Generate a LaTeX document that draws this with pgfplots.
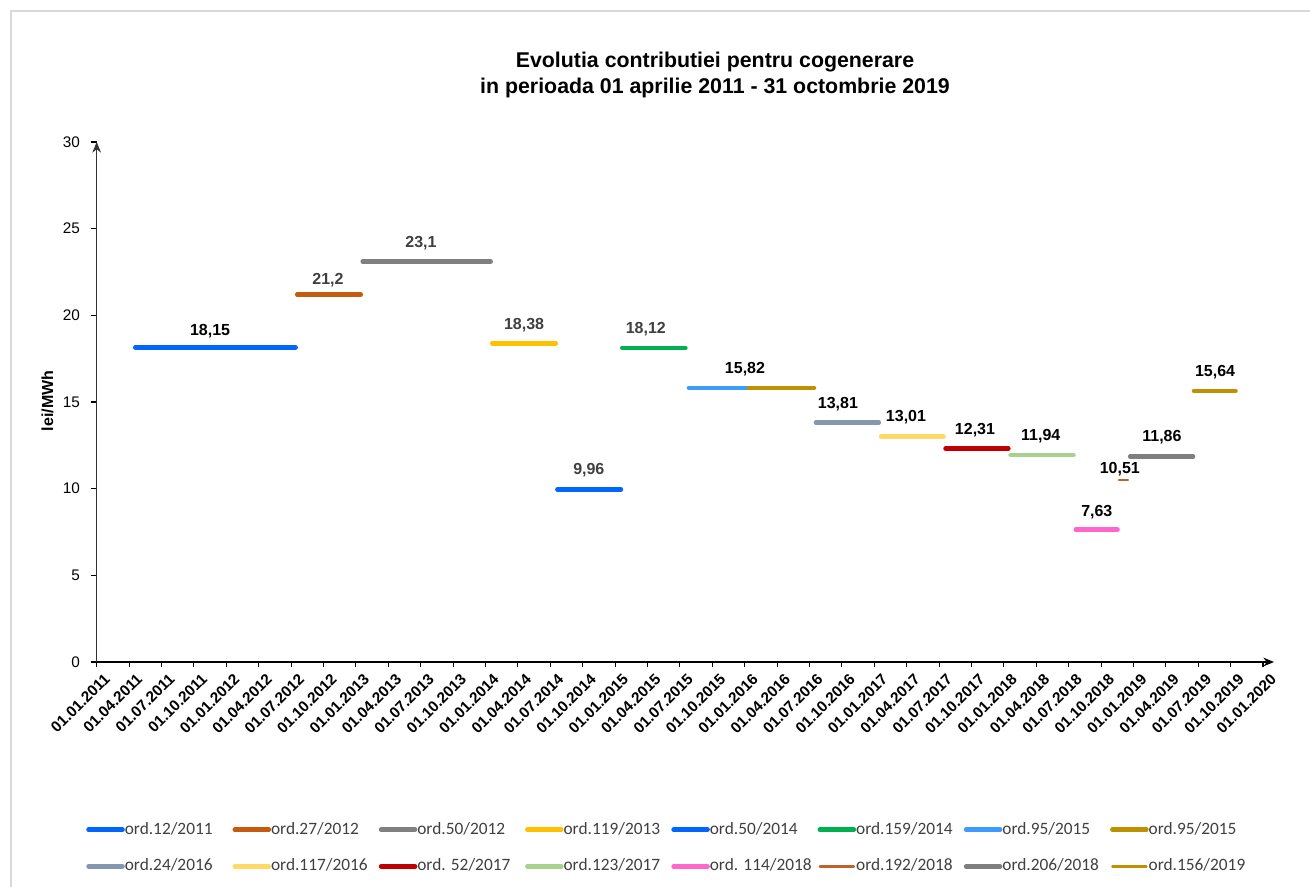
\documentclass[border=0pt]{standalone}
\usepackage{pgfplots}
\pgfplotsset{compat=1.18}
\usepackage{fontspec}
\setmainfont{Liberation Sans}
\newfontfamily\carlito{Carlito}
\usetikzlibrary{arrows.meta}

\definecolor{cBlue}{HTML}{0066FF}
\definecolor{cOrange}{HTML}{C55A11}
\definecolor{cGray}{HTML}{808080}
\definecolor{cGold}{HTML}{FFC000}
\definecolor{cGreen}{HTML}{00B050}
\definecolor{cLBlue}{HTML}{3D9BFF}
\definecolor{cOlive}{HTML}{BF9000}
\definecolor{cSlate}{HTML}{8497B0}
\definecolor{cLYellow}{HTML}{FFD966}
\definecolor{cRed}{HTML}{C00000}
\definecolor{cLGreen}{HTML}{A9D18E}
\definecolor{cPink}{HTML}{FF66CC}
\definecolor{cBrown}{HTML}{C0612B}
\definecolor{cDGray}{HTML}{7F7F7F}
\definecolor{cLab}{HTML}{404040}
\definecolor{cFrame}{HTML}{D9D9D9}

\pgfplotstableread{
x y lab
3.50 19.10 18,15
22.88 14.90 13,81
24.98 14.10 13,01
27.11 13.40 12,31
29.14 13.03 11,94
30.87 8.65 7,63
31.58 11.15 10,51
32.88 12.95 11,86
34.52 16.73 15,64
20.01 16.90 15,82
}\labblack
\pgfplotstableread{
x y lab
7.14 22.05 21,2
10.01 24.15 23,1
13.19 19.45 18,38
15.19 11.05 9,96
16.95 19.20 18,12
}\labgray

\begin{document}
\begin{tikzpicture}[x=0.75pt,y=0.75pt]
\useasboundingbox (0,0) rectangle (1310,886);
\fill[white] (0,0) rectangle (1310,886);
\draw[cFrame, line width=1.6pt] (11,-5) -- (11,875) -- (1320,875);
\node[align=center, font=\bfseries\fontsize{16}{19.5}\selectfont] at (715,811) {Evolutia contributiei pentru cogenerare\\in perioada 01 aprilie 2011 - 31 octombrie 2019};
\node[rotate=90, font=\bfseries\fontsize{12}{14}\selectfont] at (47.5,485) {lei/MWh};
\begin{axis}[
  at={(72.525pt,168pt)}, anchor=south west,
  scale only axis, width=883pt, height=390pt,
  xmin=0, xmax=36.34, ymin=0, ymax=30,
  axis x line=bottom, axis y line=left,
  x axis line style={line width=1.3pt, -{Stealth[length=8pt,width=6.5pt]}},
  y axis line style={black!80, line width=0.7pt, -{Stealth[length=8pt,width=6.5pt]}},
  tick align=outside, major tick length=4pt,
  every tick/.style={black, line width=0.8pt},
  xtick={0,...,36},
  xticklabels={01.01.2011,01.04.2011,01.07.2011,01.10.2011,01.01.2012,01.04.2012,01.07.2012,01.10.2012,01.01.2013,01.04.2013,01.07.2013,01.10.2013,01.01.2014,01.04.2014,01.07.2014,01.10.2014,01.01.2015,01.04.2015,01.07.2015,01.10.2015,01.01.2016,01.04.2016,01.07.2016,01.10.2016,01.01.2017,01.04.2017,01.07.2017,01.10.2017,01.01.2018,01.04.2018,01.07.2018,01.10.2018,01.01.2019,01.04.2019,01.07.2019,01.10.2019,01.01.2020},
  xticklabel style={rotate=45, anchor=north east, font=\bfseries\fontsize{11.5}{13}\selectfont, inner sep=1pt, xshift=2pt, yshift=-5pt},
  ytick={0,5,...,30},
  yticklabel style={font=\fontsize{11.5}{13}\selectfont, xshift=-5pt},
  /pgf/number format/assume math mode=true,
  clip=false,
  legend columns=8,
  legend cell align=left,
  legend style={at={(-0.0091,-0.306)}, anchor=north west, draw=none, fill=none,
    inner sep=0pt, font=\carlito\fontsize{13}{15}\selectfont, text=cLab,
    nodes={inner sep=0pt, text height=9.5pt, text depth=3pt},
    row sep=15pt,
    /tikz/every odd column/.style={column sep=0pt},
    /tikz/every even column/.style={column sep=0pt}},
  legend image code/.code={\draw[#1, line cap=round] (1.5pt,0pt) -- (27pt,0pt);},
]
% segments
\addplot[cBlue, line width=3.4pt, line cap=round, forget plot] coordinates {(1.19,18.15) (6.14,18.15)};
\addplot[cOrange, line width=3.4pt, line cap=round, forget plot] coordinates {(6.19,21.2) (8.15,21.2)};
\addplot[cGray, line width=3.4pt, line cap=round, forget plot] coordinates {(8.21,23.1) (12.16,23.1)};
\addplot[cGold, line width=3.4pt, line cap=round, forget plot] coordinates {(12.21,18.38) (14.17,18.38)};
\addplot[cBlue, line width=3.4pt, line cap=round, forget plot] coordinates {(14.22,9.96) (16.18,9.96)};
\addplot[cGreen, line width=3.4pt, line cap=round, forget plot] coordinates {(16.22,18.12) (18.17,18.12)};
\addplot[cLBlue, line width=3.4pt, line cap=round, forget plot] coordinates {(18.28,15.82) (20.13,15.82)};
\addplot[cOlive, line width=3.4pt, line cap=round, forget plot] coordinates {(20.13,15.82) (22.14,15.82)};
\addplot[cSlate, line width=3.4pt, line cap=round, forget plot] coordinates {(22.20,13.81) (24.14,13.81)};
\addplot[cLYellow, line width=3.4pt, line cap=round, forget plot] coordinates {(24.21,13.01) (26.14,13.01)};
\addplot[cRed, line width=3.4pt, line cap=round, forget plot] coordinates {(26.20,12.31) (28.14,12.31)};
\addplot[cLGreen, line width=3.4pt, line cap=round, forget plot] coordinates {(28.21,11.94) (30.15,11.94)};
\addplot[cPink, line width=3.4pt, line cap=round, forget plot] coordinates {(30.22,7.63) (31.51,7.63)};
\addplot[cBrown, line width=1.8pt, line cap=round, forget plot] coordinates {(31.55,10.51) (31.83,10.51)};
\addplot[cDGray, line width=3.4pt, line cap=round, forget plot] coordinates {(31.90,11.86) (33.84,11.86)};
\addplot[cOlive, line width=3.4pt, line cap=round, forget plot] coordinates {(33.87,15.64) (35.15,15.64)};
% labels
\addplot[only marks, mark=*, mark size=0pt, forget plot, nodes near coords, point meta=explicit symbolic,
  every node near coord/.append style={anchor=center, font=\bfseries\fontsize{12}{14}\selectfont, text=black}]
  table[x=x, y=y, meta=lab] {\labblack};
\addplot[only marks, mark=*, mark size=0pt, forget plot, nodes near coords, point meta=explicit symbolic,
  every node near coord/.append style={anchor=center, font=\bfseries\fontsize{12}{14}\selectfont, text=cLab}]
  table[x=x, y=y, meta=lab] {\labgray};
% legend
\addlegendimage{cBlue, line width=3.4pt}\addlegendentry{\makebox[80.8pt][l]{ord.12/2011}}
\addlegendimage{cOrange, line width=3.4pt}\addlegendentry{\makebox[80.8pt][l]{ord.27/2012}}
\addlegendimage{cGray, line width=3.4pt}\addlegendentry{\makebox[80.8pt][l]{ord.50/2012}}
\addlegendimage{cGold, line width=3.4pt}\addlegendentry{\makebox[80.8pt][l]{ord.119/2013}}
\addlegendimage{cBlue, line width=3.4pt}\addlegendentry{\makebox[80.8pt][l]{ord.50/2014}}
\addlegendimage{cGreen, line width=3.4pt}\addlegendentry{\makebox[80.8pt][l]{ord.159/2014}}
\addlegendimage{cLBlue, line width=3.4pt}\addlegendentry{\makebox[80.8pt][l]{ord.95/2015}}
\addlegendimage{cOlive, line width=3.4pt}\addlegendentry{\makebox[80.8pt][l]{ord.95/2015}}
\addlegendimage{cSlate, line width=3.4pt}\addlegendentry{\makebox[80.8pt][l]{ord.24/2016}}
\addlegendimage{cLYellow, line width=3.4pt}\addlegendentry{\makebox[80.8pt][l]{ord.117/2016}}
\addlegendimage{cRed, line width=3.4pt}\addlegendentry{\makebox[80.8pt][l]{ord. 52/2017}}
\addlegendimage{cLGreen, line width=3.4pt}\addlegendentry{\makebox[80.8pt][l]{ord.123/2017}}
\addlegendimage{cPink, line width=3.4pt}\addlegendentry{\makebox[80.8pt][l]{ord. 114/2018}}
\addlegendimage{cBrown, line width=1.8pt}\addlegendentry{\makebox[80.8pt][l]{ord.192/2018}}
\addlegendimage{cDGray, line width=3.4pt}\addlegendentry{\makebox[80.8pt][l]{ord.206/2018}}
\addlegendimage{cOlive, line width=1.8pt}\addlegendentry{\makebox[80.8pt][l]{ord.156/2019}}
\end{axis}
\end{tikzpicture}
\end{document}
